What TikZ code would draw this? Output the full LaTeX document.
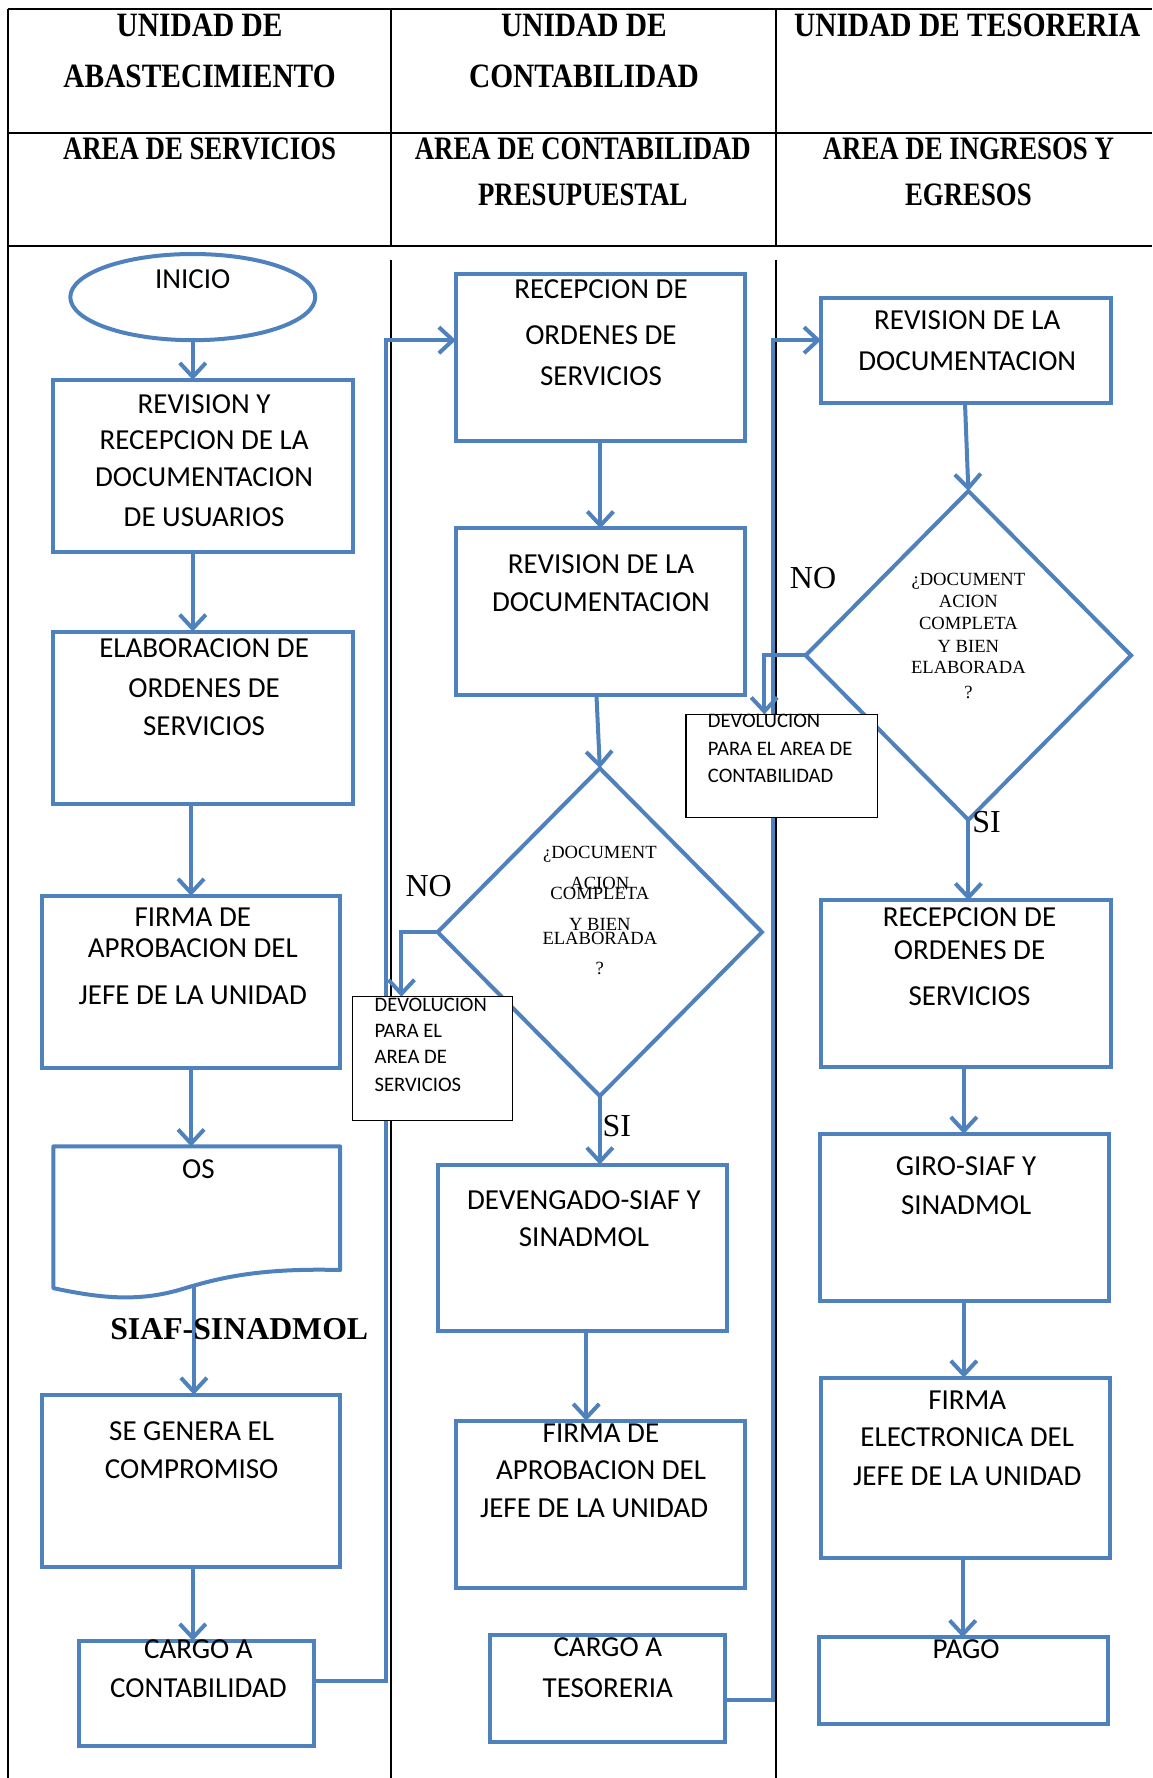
\documentclass[tikz,border=0pt]{standalone}
\usepackage{fontspec}
\setmainfont{Liberation Serif}
\newfontfamily\calib{Carlito}
\usetikzlibrary{arrows.meta,shapes.geometric}
\definecolor{bl}{RGB}{79,129,189}
\newcount\tcnt
\newcommand\mybox[5]{\node[box,minimum width={(#4-#2)*0.567pt},minimum height={(#5-#3)*0.567pt}] (#1) at ({(#2+#4)/2},{(#3+#5)/2}) {};}
\newcommand\blkbox[5]{\node[bbox,minimum width={(#4-#2)*0.567pt},minimum height={(#5-#3)*0.567pt}] (#1) at ({(#2+#4)/2},{(#3+#5)/2}) {};}
\newcommand\tx[3]{\global\advance\tcnt by 1 \node[txt] (t\the\tcnt) at ({#1},{#2+8}) {#3};}
\newcommand\tsm[3]{\global\advance\tcnt by 1 \node[tsmall] (t\the\tcnt) at ({#1},{#2+6}) {#3};}
\newcommand\tds[3]{\global\advance\tcnt by 1 \node[tdia] (t\the\tcnt) at ({#1},{#2+5}) {#3};}
\newcommand\thd[3]{\global\advance\tcnt by 1 \node[thead] (t\the\tcnt) at ({#1},{#2+10}) {\scalebox{1}[1.16]{#3}};}
\newcommand\thdb[3]{\global\advance\tcnt by 1 \node[theadb] (t\the\tcnt) at ({#1},{#2+10}) {\scalebox{1}[1.22]{#3}};}
\newcommand\tlab[3]{\global\advance\tcnt by 1 \node[tlabel] (t\the\tcnt) at ({#1},{#2+9}) {#3};}
\begin{document}
\begin{tikzpicture}[x=0.567pt,y=-0.567pt,
  tbl/.style={draw=black,line width=1pt},
  box/.style={draw=bl,line width=2pt,fill=white,rectangle,inner sep=0pt,outer sep=0pt},
  bbox/.style={draw=black,line width=0.7pt,fill=white,rectangle,inner sep=0pt,outer sep=0pt},
  dia/.style={draw=bl,line width=2pt,fill=white,diamond,inner sep=0pt,outer sep=0pt},
  conn/.style={draw=bl,line width=2pt,line join=miter},
  arr/.style={conn,-{Straight Barb[length=7pt,width=13pt]}},
  txt/.style={anchor=base,inner sep=0pt,font=\calib\fontsize{14.5pt}{17pt}\selectfont},
  tsmall/.style={anchor=base west,inner sep=0pt,font=\calib\fontsize{10.3pt}{12pt}\selectfont},
  tdia/.style={anchor=base,inner sep=0pt,font=\fontsize{9.3pt}{11pt}\selectfont},
  thead/.style={anchor=base,inner sep=0pt,font=\bfseries\fontsize{14.7pt}{16pt}\selectfont},
  theadb/.style={anchor=base,inner sep=0pt,font=\bfseries\fontsize{13.4pt}{16pt}\selectfont},
  tlabel/.style={anchor=base,inner sep=0pt,font=\fontsize{16pt}{18pt}\selectfont},
  tbold/.style={anchor=base,inner sep=0pt,font=\bfseries\fontsize{15.9pt}{18pt}\selectfont}
]
\useasboundingbox (0,0) rectangle (1016,1568);
% table
\draw[tbl] (7,8) -- (1016,8);
\draw[tbl] (7,117) -- (1016,117);
\draw[tbl] (7,217) -- (1016,217);
\draw[tbl] (7,8) -- (7,1568);
\draw[tbl] (345,8) -- (345,217);
\draw[tbl] (684,8) -- (684,217);
\draw[tbl] (345,229) -- (345,1568);
\draw[tbl] (684,229) -- (684,1568);
% headers
\thd{176}{22}{UNIDAD DE}
\thd{176}{67}{ABASTECIMIENTO}
\thd{515}{22}{UNIDAD DE}
\thd{515}{67}{CONTABILIDAD}
\thd{853}{22}{UNIDAD DE TESORERIA}
\thdb{176}{131}{AREA DE SERVICIOS}
\thdb{514}{131}{AREA DE CONTABILIDAD}
\thdb{514}{171}{PRESUPUESTAL}
\thdb{854}{131}{AREA DE INGRESOS Y}
\thdb{854}{171}{EGRESOS}
% shapes column 1
\node[draw=bl,line width=2pt,fill=white,ellipse,inner sep=0pt,minimum width={216*0.567pt},minimum height={76*0.567pt}] (ini) at (170,262) {};
\mybox{b1}{47}{335}{311}{487}
\mybox{b2}{47}{557}{311}{709}
\mybox{b3}{37}{790}{300}{942}
\node[inner sep=0pt,outer sep=0pt,minimum width={253*0.567pt},minimum height={132*0.567pt}] (os) at (173.5,1077) {};
\draw[draw=bl,line width=2pt,fill=white,line join=round] (os.north west) -- (os.north east) -- (300,1120) .. controls (225,1118) and (190,1128) .. (160,1137) .. controls (120,1149) and (85,1144) .. (47,1136) -- cycle;
\coordinate (osb) at (171,1135);
\mybox{b4}{37}{1230}{300}{1382}
\mybox{b5}{70}{1447}{277}{1540}
% column 2
\mybox{r1}{402}{242}{657}{389}
\mybox{r2}{402}{466}{657}{613}
\node[dia,minimum width={286*0.567pt},minimum height={289*0.567pt}] (d1) at (529,822) {};
\mybox{dev}{386}{1027}{641}{1174}
\mybox{f2}{402}{1253}{657}{1400}
\mybox{c2}{432}{1442}{639}{1536}
% column 3
\mybox{t1}{724}{263}{980}{355}
\node[dia,minimum width={287*0.567pt},minimum height={290*0.567pt}] (d2) at (854,578) {};
\mybox{t2}{724}{794}{980}{941}
\mybox{t3}{723}{1000}{978}{1147}
\mybox{t4}{724}{1215}{979}{1374}
\mybox{t5}{722}{1444}{977}{1520}
% helper coordinates
\coordinate (y1482) at (0,1482);
\coordinate (y1499) at (0,1499);
\coordinate (y300) at (0,300);
\coordinate (x354) at (354,0);
\coordinate (x674) at (674,0);
% connectors
\draw[arr] (ini.south) -- (ini.south |- b1.north);
\draw[arr] (b1.south -| ini.south) -- (b2.north -| ini.south);
\draw[arr] (b2.south -| b3.north) -- (b3.north);
\draw[arr] (b3.south) -- (os.north -| b3.south);
\draw[arr] (osb) -- (osb |- b4.north);
\draw[arr] (b4.south -| 170,0) -- (b5.north -| 170,0);
\draw[arr] (b5.east |- y1482) -- (340,1482) -- (340,300) -- (r1.west |- y300);
\draw[arr] (r1.south) -- (r2.north);
\draw[arr] (r2.south -| 526,0) -- (d1.north);
\draw[arr] (d1.west) -| (x354 |- 0,879);
\draw[arr] (d1.south) -- (d1.south |- dev.north);
\draw[arr] (dev.south -| 517,0) -- (f2.north -| 517,0);
\draw[arr] (c2.east |- y1499) -- (682,1499) -- (682,300) -- (t1.west |- y300);
\draw[arr] (t1.south -| 851,0) -- (d2.north);
\draw[arr] (d2.west) -| (x674 |- 0,630);
\draw[arr] (d2.south) -- (d2.south |- t2.north);
\draw[arr] (t2.south -| 850,0) -- (t3.north -| 850,0);
\draw[arr] (t3.south -| 850,0) -- (t4.north -| 850,0);
\draw[arr] (t4.south -| 849,0) -- (t5.north -| 849,0);
% black boxes
\blkbox{dv1}{311}{879}{452}{988}
\blkbox{dv2}{605}{630}{774}{721}
% texts column 1
\tx{170}{246}{INICIO}
\tx{180}{357}{REVISION Y}
\tx{180}{388}{RECEPCION DE LA}
\tx{180}{421}{DOCUMENTACION}
\tx{180}{456}{DE USUARIOS}
\tx{180}{572}{ELABORACION DE}
\tx{180}{607}{ORDENES DE}
\tx{180}{641}{SERVICIOS}
\tx{170}{809}{FIRMA DE}
\tx{170}{836}{APROBACION DEL}
\tx{170}{878}{JEFE DE LA UNIDAD}
\tx{175}{1031}{OS}
\node[tbold] (siaf) at (211,1181) {SIAF-SINADMOL};
\tx{169}{1262}{SE GENERA EL}
\tx{169}{1296}{COMPROMISO}
\tx{175}{1455}{CARGO A}
\tx{175}{1489}{CONTABILIDAD}
% texts column 2
\tx{530}{255}{RECEPCION DE}
\tx{530}{296}{ORDENES DE}
\tx{530}{332}{SERVICIOS}
\tx{530}{498}{REVISION DE LA}
\tx{530}{531}{DOCUMENTACION}
\tds{529}{752}{¿DOCUMENT}
\tds{529}{779}{ACION}
\tds{529}{788}{COMPLETA}
\tds{529}{816}{Y BIEN}
\tds{529}{828}{ELABORADA}
\tds{529}{854}{?}
\tlab{378}{782}{NO}
\tlab{544}{993}{SI}
\tsm{330}{886}{DEVOLUCION}
\tsm{330}{909}{PARA EL}
\tsm{330}{932}{AREA DE}
\tsm{330}{957}{SERVICIOS}
\tx{515}{1059}{DEVENGADO-SIAF Y}
\tx{515}{1091}{SINADMOL}
\tx{530}{1264}{FIRMA DE}
\tx{530}{1297}{APROBACION DEL}
\tx{524}{1330}{JEFE DE LA UNIDAD}
\tx{536}{1453}{CARGO A}
\tx{536}{1489}{TESORERIA}
% texts column 3
\tx{853}{283}{REVISION DE LA}
\tx{853}{319}{DOCUMENTACION}
\tds{854}{511}{¿DOCUMENT}
\tds{854}{531}{ACION}
\tds{854}{550}{COMPLETA}
\tds{854}{570}{Y BIEN}
\tds{854}{589}{ELABORADA}
\tds{854}{611}{?}
\tlab{717}{510}{NO}
\tlab{870}{725}{SI}
\tsm{624}{636}{DEVOLUCION}
\tsm{624}{660}{PARA EL AREA DE}
\tsm{624}{684}{CONTABILIDAD}
\tx{855}{809}{RECEPCION DE}
\tx{855}{838}{ORDENES DE}
\tx{855}{879}{SERVICIOS}
\tx{852}{1029}{GIRO-SIAF Y}
\tx{852}{1063}{SINADMOL}
\tx{853}{1235}{FIRMA}
\tx{853}{1268}{ELECTRONICA DEL}
\tx{853}{1302}{JEFE DE LA UNIDAD}
\tx{852}{1455}{PAGO}
\end{tikzpicture}
\end{document}
